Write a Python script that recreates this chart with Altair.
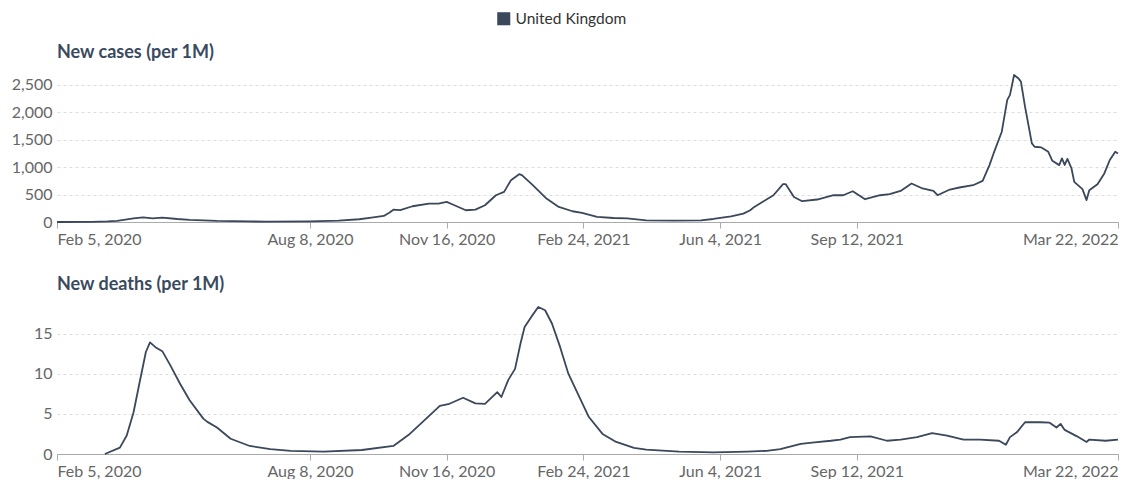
import altair as alt
import pandas as pd

COUNTRY = "United Kingdom"
LINE_COLOR = "#3b475a"

case_dates = [
    "2020-02-05", "2020-03-01", "2020-03-13", "2020-03-20", "2020-04-01", "2020-04-08",
    "2020-04-15", "2020-04-22", "2020-05-03", "2020-05-12", "2020-06-01", "2020-06-25",
    "2020-07-07", "2020-08-08", "2020-08-29", "2020-09-13", "2020-09-22", "2020-10-01",
    "2020-10-05", "2020-10-08", "2020-10-13", "2020-10-22", "2020-11-03", "2020-11-10",
    "2020-11-16", "2020-11-20", "2020-11-30", "2020-12-07", "2020-12-14", "2020-12-22",
    "2020-12-28", "2021-01-02", "2021-01-08", "2021-01-10", "2021-01-18", "2021-01-28",
    "2021-02-06", "2021-02-16", "2021-02-23", "2021-03-06", "2021-03-18", "2021-03-28",
    "2021-04-11", "2021-05-01", "2021-05-21", "2021-05-30", "2021-06-12", "2021-06-21",
    "2021-06-26", "2021-06-29", "2021-07-04", "2021-07-13", "2021-07-20", "2021-07-22",
    "2021-07-28", "2021-08-03", "2021-08-14", "2021-08-26", "2021-09-02", "2021-09-09",
    "2021-09-18", "2021-09-29", "2021-10-06", "2021-10-14", "2021-10-22", "2021-10-30",
    "2021-11-07", "2021-11-10", "2021-11-19", "2021-11-26", "2021-12-06", "2021-12-13",
    "2021-12-18", "2021-12-21", "2021-12-27", "2021-12-31", "2022-01-02", "2022-01-05",
    "2022-01-08", "2022-01-10", "2022-01-13", "2022-01-18", "2022-01-20", "2022-01-25",
    "2022-01-30", "2022-02-02", "2022-02-07", "2022-02-09", "2022-02-11", "2022-02-13",
    "2022-02-16", "2022-02-18", "2022-02-24", "2022-02-27", "2022-03-01", "2022-03-07",
    "2022-03-12", "2022-03-16", "2022-03-20", "2022-03-22",
]
case_values = [
    0, 2, 10, 20, 65, 85,
    65, 80, 55, 40, 20, 10,
    8, 12, 25, 50, 80, 110,
    170, 225, 215, 287, 335, 335,
    366, 323, 214, 226, 305, 488,
    549, 762, 872, 854, 671, 427,
    275, 196, 165, 92, 73, 67,
    31, 25, 31, 55, 104, 153,
    214, 275, 350, 488, 690, 690,
    457, 379, 410, 488, 488, 561,
    415, 488, 507, 567, 702, 611,
    567, 488, 592, 629, 671, 750,
    1037, 1250, 1646, 2226, 2317, 2680,
    2622, 2560, 2103, 1434, 1372, 1360,
    1280, 1115, 1037, 1160, 1040, 1150,
    976, 731, 600, 400, 580, 690,
    885, 1130, 1280, 1250,
]

death_dates = [
    "2020-03-11", "2020-03-22", "2020-03-27", "2020-04-01", "2020-04-06", "2020-04-10",
    "2020-04-13", "2020-04-17", "2020-04-22", "2020-04-28", "2020-05-05", "2020-05-12",
    "2020-05-22", "2020-05-25", "2020-06-01", "2020-06-11", "2020-06-25", "2020-07-10",
    "2020-07-25", "2020-08-18", "2020-09-15", "2020-10-08", "2020-10-20", "2020-11-01",
    "2020-11-11", "2020-11-18", "2020-11-28", "2020-12-07", "2020-12-14", "2020-12-23",
    "2020-12-26", "2020-12-31", "2021-01-05", "2021-01-09", "2021-01-12", "2021-01-17",
    "2021-01-22", "2021-01-27", "2021-02-01", "2021-02-07", "2021-02-13", "2021-02-21",
    "2021-02-28", "2021-03-10", "2021-03-20", "2021-04-02", "2021-04-11", "2021-05-05",
    "2021-05-30", "2021-06-24", "2021-07-08", "2021-07-18", "2021-08-02", "2021-08-12",
    "2021-08-24", "2021-08-31", "2021-09-07", "2021-09-22", "2021-10-04", "2021-10-14",
    "2021-10-26", "2021-11-06", "2021-11-17", "2021-11-29", "2021-12-11", "2021-12-25",
    "2021-12-30", "2022-01-02", "2022-01-07", "2022-01-13", "2022-01-24", "2022-01-31",
    "2022-02-05", "2022-02-08", "2022-02-11", "2022-02-20", "2022-02-27", "2022-03-01",
    "2022-03-13", "2022-03-22",
]
death_values = [
    0, 0.8, 2.3, 5.2, 9.4, 12.7,
    13.9, 13.3, 12.8, 11.0, 8.75, 6.7,
    4.4, 4.0, 3.3, 1.9, 1.0, 0.6,
    0.4, 0.3, 0.5, 1.0, 2.5, 4.4,
    6.0, 6.25, 7.0, 6.3, 6.25, 7.7,
    7.1, 9.2, 10.6, 13.75, 15.8, 17.1,
    18.3, 17.9, 16.25, 13.3, 10.0, 7.1,
    4.6, 2.5, 1.5, 0.75, 0.55, 0.3,
    0.2, 0.3, 0.4, 0.6, 1.25, 1.45,
    1.65, 1.8, 2.1, 2.2, 1.65, 1.8,
    2.1, 2.6, 2.3, 1.8, 1.8, 1.65,
    1.15, 2.1, 2.7, 3.95, 3.95, 3.9,
    3.3, 3.75, 3.0, 2.2, 1.5, 1.8,
    1.65, 1.8,
]

tick_dates = [(2020, 2, 5), (2020, 8, 8), (2020, 11, 16), (2021, 2, 24),
              (2021, 6, 4), (2021, 9, 12), (2022, 3, 22)]
case_ticks = [0, 500, 1000, 1500, 2000, 2500]
death_ticks = [0, 5, 10, 15]

cases = pd.DataFrame({"date": pd.to_datetime(case_dates), "value": case_values, "country": COUNTRY})
deaths = pd.DataFrame({"date": pd.to_datetime(death_dates), "value": death_values, "country": COUNTRY})

x_dom = [alt.DateTime(year=2020, month=2, date=5), alt.DateTime(year=2022, month=3, date=22)]
x_vals = [alt.DateTime(year=y, month=m, date=d) for (y, m, d) in tick_dates]


def panel(df, title, ymax, yticks):
    return alt.Chart(df).mark_line(strokeWidth=1.8, strokeJoin="round").encode(
        x=alt.X("date:T", title=None,
                scale=alt.Scale(domain=x_dom),
                axis=alt.Axis(values=x_vals, format="%b %-d, %Y", labelFlush=True,
                              grid=False, tickSize=6, labelPadding=3)),
        y=alt.Y("value:Q", title=None,
                scale=alt.Scale(domain=[0, ymax], nice=False, zero=True),
                axis=alt.Axis(values=yticks, format=",.0f", domain=False, ticks=False,
                              labelPadding=5, grid=True)),
        color=alt.Color("country:N", title=None,
                        scale=alt.Scale(domain=[COUNTRY], range=[LINE_COLOR]),
                        legend=alt.Legend(orient="none", legendX=439, legendY=-64,
                                          direction="horizontal", symbolType="square",
                                          symbolSize=170, symbolStrokeWidth=0,
                                          symbolFillColor=LINE_COLOR, symbolOpacity=1,
                                          labelFontSize=15.5, labelColor="#333",
                                          labelFont="Lato")),
    ).properties(
        width=1061, height=147,
        title=alt.TitleParams(title, anchor="start", frame="group", fontSize=18,
                              fontWeight="bold", color="#3a4a5e", font="Lato", offset=12),
    )


top = panel(cases, "New cases (per 1M)", 2680, case_ticks)
bottom = panel(deaths, "New deaths (per 1M)", 18.3, death_ticks)

chart = alt.vconcat(top, bottom, spacing=29).properties(
    padding={"left": 3, "top": 3, "right": 0, "bottom": 0}
).configure(font="Lato").configure_view(stroke=None).configure_axis(
    labelFont="Lato", labelFontSize=16, labelColor="#666",
    gridColor="#dddddd", gridDash=[3, 3], gridWidth=1,
    domainColor="#aaaaaa", tickColor="#aaaaaa",
)

chart.save("out.html", embed_options={"renderer": "svg", "actions": False})
